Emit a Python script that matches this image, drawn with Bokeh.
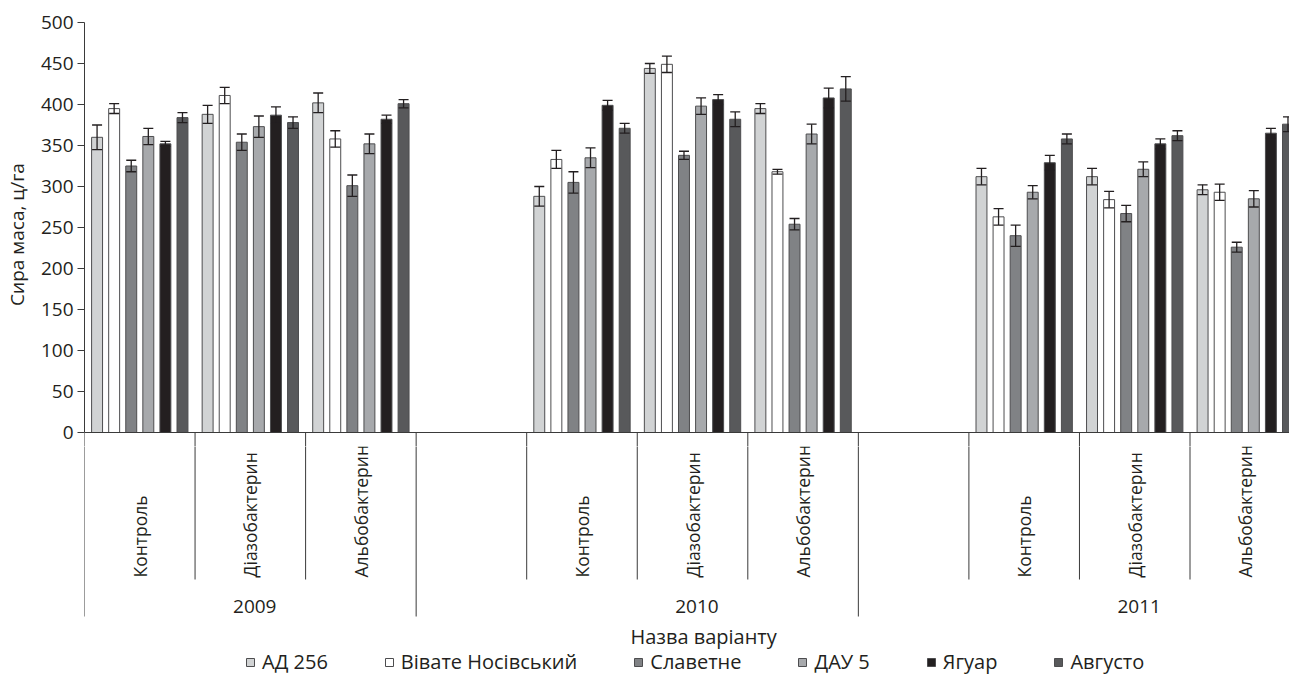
import numpy as np
from bokeh.plotting import figure
from bokeh.layouts import column
from bokeh.models import (ColumnDataSource, Range1d, FixedTicker, Whisker, TeeHead,
                          Legend, LegendItem, Span)
from bokeh.core.properties import value
from bokeh.embed import file_html
from bokeh.resources import INLINE

# ---------------- data ----------------
varieties = ["АД 256", "Вівате Носівський", "Славетне", "ДАУ 5", "Ягуар", "Августо"]
slot_years = ["2009", "2009", "2009",
              "2010", "2010", "2010", "2010",
              "2011", "2011", "2011", "2011"]
slot_labels = ["Контроль", "Діазобактерин", "Альбобактерин",
               "", "Контроль", "Діазобактерин", "Альбобактерин",
               "", "Контроль", "Діазобактерин", "Альбобактерин"]
years = ["2009", "2010", "2011"]
y_ticks = [0, 50, 100, 150, 200, 250, 300, 350, 400, 450, 500]

# values per non-empty slot (2009 K,D,A; 2010 K,D,A; 2011 K,D,A)
ad256 = [360, 388, 402, 288, 444, 395, 312, 312, 296]
vivate = [395, 411, 358, 333, 449, 318, 263, 284, 293]
slavetne = [325, 354, 301, 305, 338, 254, 240, 267, 226]
dau5 = [361, 373, 352, 335, 398, 364, 293, 321, 285]
yaguar = [352, 387, 382, 399, 406, 408, 329, 352, 365]
avgusto = [384, 378, 401, 371, 382, 419, 358, 362, 376]

ad256_err = [15, 11, 12, 12, 6, 6, 10, 10, 6]
vivate_err = [6, 10, 10, 11, 10, 3, 10, 10, 10]
slavetne_err = [7, 10, 13, 13, 5, 7, 13, 10, 6]
dau5_err = [10, 13, 12, 12, 10, 12, 8, 9, 10]
yaguar_err = [3, 10, 5, 6, 6, 12, 9, 6, 6]
avgusto_err = [6, 7, 5, 6, 9, 15, 6, 6, 9]

series = [ad256, vivate, slavetne, dau5, yaguar, avgusto]
errors = [ad256_err, vivate_err, slavetne_err, dau5_err, yaguar_err, avgusto_err]
colors = ["#d1d3d4", "#ffffff", "#808285", "#a7a9ac", "#231f20", "#58595b"]

# ---------------- styling ----------------
FONT = "Open Sans"
TXT = "#231f20"
AX = "#3a3a3a"
BAR_LINE = "#4d4d4f"
PX = 0.82            # pixels per unit (vertical)
ZERO_Y = 432         # canvas row of value 0
TOP_H = 446          # height of the upper (bar) figure
TOTAL_H = 675
W = 1289
LEFT = 83


def to_data(row):
    return (ZERO_Y - row) / PX


nonempty = [i for i, l in enumerate(slot_labels) if l]
centers = np.array(nonempty, dtype=float) + 0.5
x_range = Range1d(0, 10.9)

# ---------------- upper figure: bars ----------------
p = figure(width=W, height=TOP_H, x_range=x_range,
           y_range=Range1d(to_data(TOP_H), 500),
           x_axis_type=None, output_backend="svg", toolbar_location=None,
           min_border_left=LEFT, min_border_right=0, min_border_top=22, min_border_bottom=0)
p.outline_line_color = None
p.grid.visible = False

yax = p.yaxis[0]
yax.ticker = FixedTicker(ticks=y_ticks)
yax.bounds = (0, 500)
yax.minor_tick_line_color = None
yax.major_tick_out = 7
yax.major_tick_in = 0
yax.major_label_standoff = 4
yax.axis_line_color = AX
yax.major_tick_line_color = AX
yax.major_label_text_font = FONT
yax.major_label_text_font_size = "19px"
yax.major_label_text_color = TXT
yax.axis_label = "Сира маса, ц/га"
yax.axis_label_text_font = FONT
yax.axis_label_text_font_size = "19px"
yax.axis_label_text_font_style = "normal"
yax.axis_label_text_color = TXT
yax.axis_label_standoff = 8

p.add_layout(Span(location=0, dimension="width", line_color=AX, line_width=1))

pitch = 0.1545
bar_w = 0.099
for i, (name, vals, errs, col) in enumerate(zip(varieties, series, errors, colors)):
    xs = centers + (i - 2.5) * pitch
    vals = np.array(vals, dtype=float)
    errs = np.array(errs, dtype=float)
    src = ColumnDataSource(dict(x=xs, top=vals, upper=vals + errs, lower=vals - errs))
    p.vbar(x="x", top="top", bottom=0, width=bar_w, source=src,
           fill_color=col, line_color=BAR_LINE, line_width=1)
    p.add_layout(Whisker(base="x", upper="upper", lower="lower", source=src,
                         line_color="#231f20", line_width=1.3, level="overlay",
                         upper_head=TeeHead(size=10, line_color="#231f20", line_width=1.3),
                         lower_head=TeeHead(size=10, line_color="#231f20", line_width=1.3)))

# ---------------- lower figure: category axis + legend ----------------
q = figure(width=W, height=TOTAL_H - TOP_H, x_range=x_range,
           y_range=Range1d(to_data(TOTAL_H), to_data(TOP_H)),
           x_axis_type=None, y_axis_type=None, output_backend="svg", toolbar_location=None,
           min_border_left=LEFT, min_border_right=0, min_border_top=0, min_border_bottom=0)
q.outline_line_color = None
q.grid.visible = False

# separators (long between years, short between treatments), drawn in both panels
sx, sy1 = [], []
for i in range(len(slot_labels)):
    long_sep = (i == 0) or (slot_years[i] != slot_years[i - 1])
    sx.append(float(i))
    sy1.append(to_data(616) if long_sep else to_data(579))
for fig in (p, q):
    fig.segment(x0=sx, y0=[0.0] * len(sx), x1=sx, y1=sy1, line_color=AX, line_width=1)

# treatment labels (rotated)
lab_x = [i + 0.5 for i in nonempty]
lab_t = [slot_labels[i] for i in nonempty]
q.text(x=lab_x, y=[to_data(577)] * len(lab_x), text=lab_t, angle=np.pi / 2,
       text_align="left", text_baseline="middle", text_font=value(FONT),
       text_font_size="17.5px", text_color=TXT)

# year labels
yr_x = [float(np.mean([i + 0.5 for i in nonempty if slot_years[i] == y])) + 0.04 for y in years]
q.text(x=yr_x, y=[to_data(606)] * 3, text=years, text_align="center",
       text_baseline="middle", text_font=value(FONT), text_font_size="19px", text_color=TXT)

# x axis title
q.text(x=[5.6], y=[to_data(636)], text=["Назва варіанту"], text_align="center",
       text_baseline="middle", text_font=value(FONT), text_font_size="20px", text_color=TXT)

# legend (proxy glyphs, not drawn, with the same styling as the bars)
items = []
for name, col in zip(varieties, colors):
    r = q.quad(left=[np.nan], right=[np.nan], top=[np.nan], bottom=[np.nan],
               fill_color=col, line_color=BAR_LINE, line_width=1)
    items.append(LegendItem(label=name, renderers=[r]))

legend = Legend(items=items, orientation="horizontal", location=(161, 0),
                glyph_width=10, glyph_height=10, label_standoff=7, spacing=56,
                padding=0, margin=0, border_line_color=None, background_fill_alpha=0,
                label_text_font=FONT, label_text_font_size="20px", label_text_color=TXT,
                label_height=22)
q.add_layout(legend)

layout = column(p, q, spacing=0)
open("out.html", "w").write(file_html(layout, INLINE))
